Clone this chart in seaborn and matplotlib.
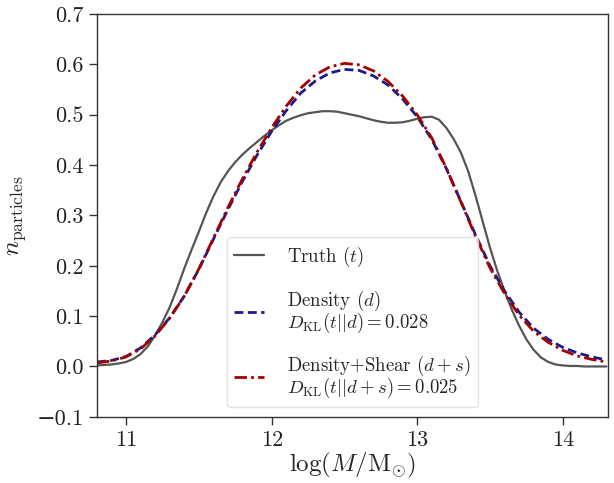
import numpy as np
import pandas as pd
import matplotlib
matplotlib.use("Agg")
import matplotlib.pyplot as plt
import seaborn as sns

# Truth curve, read at 0.05 steps
truth_x = [10.80, 10.85, 10.90, 10.95, 11.00, 11.05, 11.10, 11.15, 11.20, 11.25,
           11.30, 11.35, 11.40, 11.45, 11.50, 11.55, 11.60, 11.65, 11.70, 11.75,
           11.80, 11.85, 11.90, 11.95, 12.00, 12.05, 12.10, 12.15, 12.20, 12.25,
           12.30, 12.35, 12.40, 12.45, 12.50, 12.55, 12.60, 12.65, 12.70, 12.75,
           12.80, 12.85, 12.90, 12.95, 13.00, 13.05, 13.10, 13.15, 13.20, 13.25,
           13.30, 13.35, 13.40, 13.45, 13.50, 13.55, 13.60, 13.65, 13.70, 13.75,
           13.80, 13.85, 13.90, 13.95, 14.00, 14.05, 14.10, 14.15, 14.20, 14.25,
           14.30]
truth = [0.002, 0.003, 0.004, 0.006, 0.009, 0.015, 0.025, 0.040, 0.062, 0.088,
         0.118, 0.155, 0.195, 0.232, 0.268, 0.305, 0.338, 0.366, 0.388, 0.406,
         0.421, 0.434, 0.446, 0.458, 0.469, 0.479, 0.488, 0.494, 0.499, 0.503,
         0.505, 0.507, 0.507, 0.506, 0.503, 0.500, 0.497, 0.493, 0.489, 0.486,
         0.484, 0.484, 0.485, 0.488, 0.492, 0.495, 0.496, 0.490, 0.474, 0.452,
         0.425, 0.388, 0.340, 0.288, 0.236, 0.190, 0.150, 0.113, 0.081, 0.054,
         0.033, 0.018, 0.009, 0.004, 0.002, 0.001, 0.001, 0.000, 0.000, 0.000,
         0.000]

# Model predictions, read at 0.1 steps
model_x = [10.8, 10.9, 11.0, 11.1, 11.2, 11.3, 11.4, 11.5, 11.6, 11.7,
           11.8, 11.9, 12.0, 12.1, 12.2, 12.3, 12.4, 12.5, 12.6, 12.7,
           12.8, 12.9, 13.0, 13.1, 13.2, 13.3, 13.4, 13.5, 13.6, 13.7,
           13.8, 13.9, 14.0, 14.1, 14.2, 14.3]
density = [0.009, 0.012, 0.020, 0.037, 0.063, 0.097, 0.140, 0.193, 0.253, 0.312,
           0.368, 0.420, 0.467, 0.508, 0.543, 0.567, 0.583, 0.590, 0.588, 0.577,
           0.559, 0.531, 0.496, 0.451, 0.393, 0.328, 0.262, 0.200, 0.150, 0.108,
           0.076, 0.054, 0.038, 0.027, 0.019, 0.013]
density_shear = [0.007, 0.011, 0.019, 0.035, 0.061, 0.096, 0.140, 0.194, 0.255, 0.316,
                 0.373, 0.426, 0.474, 0.517, 0.553, 0.579, 0.595, 0.602, 0.599, 0.587,
                 0.566, 0.537, 0.500, 0.454, 0.394, 0.327, 0.259, 0.196, 0.145, 0.102,
                 0.070, 0.048, 0.032, 0.021, 0.014, 0.009]

labels = [r"Truth ($t$)",
          "Density ($d$)\n" + r"$D_{\rm KL}(t||d) = 0.028$",
          "Density+Shear ($d+s$)\n" + r"$D_{\rm KL}(t||d+s) = 0.025$"]

x_ticks = [11, 12, 13, 14]
y_ticks = [-0.1, 0.0, 0.1, 0.2, 0.3, 0.4, 0.5, 0.6, 0.7]

sns.set_style("ticks")
plt.rcParams.update({
    "font.family": ["cmr10", "DejaVu Sans"],
    "mathtext.fontset": "cm",
    "axes.formatter.use_mathtext": True,
    "axes.unicode_minus": True,
})

df_truth = pd.DataFrame({"x": truth_x, "y": truth})
df_model = pd.DataFrame({"x": model_x, "density": density,
                         "density_shear": density_shear})

fig = plt.figure(figsize=(6.14, 4.83), dpi=100)
ax = fig.add_axes([0.158, 0.137, 0.832, 0.834])

sns.lineplot(data=df_truth, x="x", y="y", ax=ax, color="#555555", lw=1.6,
             linestyle="-", label=labels[0])
sns.lineplot(data=df_model, x="x", y="density", ax=ax, color="#1c1c88", lw=2.0,
             linestyle=(0, (3.2, 1.6)), label=labels[1])
sns.lineplot(data=df_model, x="x", y="density_shear", ax=ax, color="#a50000", lw=2.0,
             linestyle=(0, (4.5, 1.5, 1.0, 1.5)), label=labels[2])

ax.set_xlim(10.8, 14.31)
ax.set_ylim(-0.1, 0.7)
ax.set_xticks(x_ticks)
ax.set_yticks(y_ticks)
ax.set_yticklabels([f"{v:.1f}".replace("-", "\u2212") for v in y_ticks])
ax.set_xticklabels([str(v) for v in x_ticks])
ax.tick_params(axis="both", labelsize=16, length=6, width=1, colors="#333333",
               labelcolor="#222222", direction="out")
for sp in ax.spines.values():
    sp.set_color("#333333")
    sp.set_linewidth(1.0)

ax.set_xlabel(r"$\log(M/\mathrm{M}_{\odot})$", fontsize=18, labelpad=1)
ax.set_ylabel(r"$n_{\rm particles}$", fontsize=18, labelpad=6)

leg = ax.legend(loc="lower center", bbox_to_anchor=(0.5, 0.0), fontsize=13.5,
                frameon=True, fancybox=True, framealpha=0.8, edgecolor="#dddddd",
                handlelength=1.6, handletextpad=1.2, labelspacing=1.05,
                borderpad=0.4)
for t in leg.get_texts():
    t.set_linespacing(0.85)

fig.savefig("out.png", dpi=100)
